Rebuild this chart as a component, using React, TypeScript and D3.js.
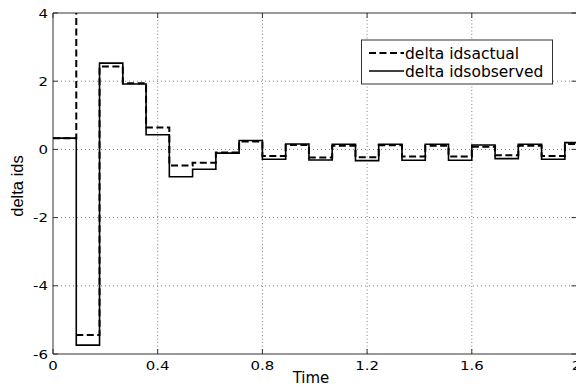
import React from "react";
import * as d3 from "d3";

// Step times (s) at which the sampled signals change
const stepTimes = [0, 0.0889, 0.1778, 0.2667, 0.3556, 0.4444, 0.5333, 0.6222, 0.7111, 0.8, 0.8889, 0.9778, 1.0667, 1.1556, 1.2444, 1.3333, 1.4222, 1.5111, 1.6, 1.6889, 1.7778, 1.8667, 1.9556, 2.0];
const observedValues = [0.33, -5.74, 2.53, 1.92, 0.43, -0.8, -0.58, -0.11, 0.26, -0.29, 0.16, -0.31, 0.15, -0.33, 0.15, -0.32, 0.15, -0.32, 0.13, -0.27, 0.15, -0.29, 0.2];
const actualValues = [0.33, -5.44, 2.43, 1.94, 0.64, -0.47, -0.39, -0.09, 0.23, -0.19, 0.13, -0.24, 0.11, -0.23, 0.12, -0.21, 0.11, -0.21, 0.08, -0.17, 0.11, -0.19, 0.16];
// transient spike of the actual signal at the first sample
const actualSpikeTime = 0.0889;
const actualSpikeValue = 12;

const xTicks = [0, 0.4, 0.8, 1.2, 1.6, 2];
const xTickLabels = ["0", "0.4", "0.8", "1.2", "1.6", "2"];
const yTicks = [-6, -4, -2, 0, 2, 4];
const yTickLabels = ["-6", "-4", "-2", "0", "2", "4"];
const legendLabels = ["delta idsactual", "delta idsobserved"];

const W = 576, H = 388;
const L = 53, T = 13, R = 576.5, B = 354;

export default function App() {
  const x = d3.scaleLinear().domain([0, 2]).range([L, R]);
  const y = d3.scaleLinear().domain([-6, 4]).range([B, T]);

  const obsPts: [number, number][] = observedValues.map((v, i) => [stepTimes[i], v]);
  obsPts.push([stepTimes[stepTimes.length - 1], observedValues[observedValues.length - 1]]);

  const actPts: [number, number][] = [];
  actualValues.forEach((v, i) => {
    if (i === 1) {
      actPts.push([actualSpikeTime, actualSpikeValue]);
      actPts.push([NaN, NaN]);
    }
    actPts.push([stepTimes[i], v]);
  });
  actPts.push([stepTimes[stepTimes.length - 1], actualValues[actualValues.length - 1]]);

  const line = d3
    .line<[number, number]>()
    .defined((d) => !isNaN(d[0]))
    .x((d) => x(d[0]))
    .y((d) => y(d[1]))
    .curve(d3.curveStepAfter);

  const tickFont = "'DejaVu Sans', Verdana, sans-serif";
  const grid = "#808080";
  const axisColor = "#333";

  return (
    <svg width={W} height={H} style={{ position: "absolute", left: 0, top: 0, background: "#fff" }}>
      <defs>
        <clipPath id="plotclip">
          <rect x={L} y={T} width={R - L} height={B - T} />
        </clipPath>
      </defs>
      <rect x={0} y={0} width={W} height={H} fill="#fff" />
      {/* grid */}
      {xTicks.slice(1, -1).map((t) => (
        <line key={"gx" + t} x1={x(t)} x2={x(t)} y1={T} y2={B} stroke={grid} strokeWidth={1} strokeDasharray="1,2.5" />
      ))}
      {yTicks.slice(1, -1).map((t) => (
        <line key={"gy" + t} x1={L} x2={R} y1={y(t)} y2={y(t)} stroke={grid} strokeWidth={1} strokeDasharray="1,3" />
      ))}
      {/* axis box */}
      <line x1={L} x2={R} y1={T} y2={T} stroke={axisColor} strokeWidth={1} />
      <line x1={L} x2={R} y1={B} y2={B} stroke={axisColor} strokeWidth={1} />
      <line x1={L} x2={L} y1={T} y2={B} stroke={axisColor} strokeWidth={1} />
      <line x1={R} x2={R} y1={T} y2={B} stroke={axisColor} strokeWidth={1} />
      {/* ticks */}
      {xTicks.map((t) => (
        <g key={"tx" + t}>
          <line x1={x(t)} x2={x(t)} y1={B} y2={B - 5} stroke={axisColor} />
          <line x1={x(t)} x2={x(t)} y1={T} y2={T + 5} stroke={axisColor} />
        </g>
      ))}
      {yTicks.map((t) => (
        <g key={"ty" + t}>
          <line x1={L} x2={L + 5} y1={y(t)} y2={y(t)} stroke={axisColor} />
          <line x1={R} x2={R - 5} y1={y(t)} y2={y(t)} stroke={axisColor} />
        </g>
      ))}
      {/* data */}
      <g clipPath="url(#plotclip)">
        <path d={line(obsPts) || ""} fill="none" stroke="#000" strokeWidth={1.6} />
        <path d={line(actPts) || ""} fill="none" stroke="#000" strokeWidth={2} strokeDasharray="7,3.5" />
      </g>
      {/* tick labels */}
      {xTicks.map((t, i) => (
        <text
          key={"lx" + t}
          transform={`translate(${x(t)},${370}) scale(1.3,1)`}
          textAnchor="middle"
          fontFamily={tickFont}
          fontSize={11.5}
          fill="#000"
        >
          {xTickLabels[i]}
        </text>
      ))}
      {yTicks.map((t, i) => (
        <text
          key={"ly" + t}
          transform={`translate(${48},${y(t) + 4.5}) scale(1.3,1)`}
          textAnchor="end"
          fontFamily={tickFont}
          fontSize={11.5}
          fill="#000"
        >
          {yTickLabels[i]}
        </text>
      ))}
      {/* axis labels */}
      <text x={311} y={383} textAnchor="middle" fontFamily={tickFont} fontSize={15} fill="#000">
        Time
      </text>
      <text
        transform={`translate(${23},${186}) rotate(-90)`}
        textAnchor="middle"
        fontFamily="'Liberation Sans', Arial, sans-serif"
        fontSize={16.5}
        fill="#000"
      >
        delta ids
      </text>
      {/* legend */}
      <rect x={361.5} y={40} width={191} height={44} fill="#fff" stroke={axisColor} strokeWidth={1} />
      <line x1={369} x2={404} y1={53} y2={53} stroke="#000" strokeWidth={2} strokeDasharray="7,3.5" />
      <line x1={369} x2={404} y1={71} y2={71} stroke="#000" strokeWidth={1.6} />
      <text x={405} y={58.5} fontFamily={tickFont} fontSize={15.5} fill="#000">
        {legendLabels[0]}
      </text>
      <text x={405} y={77} fontFamily={tickFont} fontSize={15.5} fill="#000">
        {legendLabels[1]}
      </text>
    </svg>
  );
}
